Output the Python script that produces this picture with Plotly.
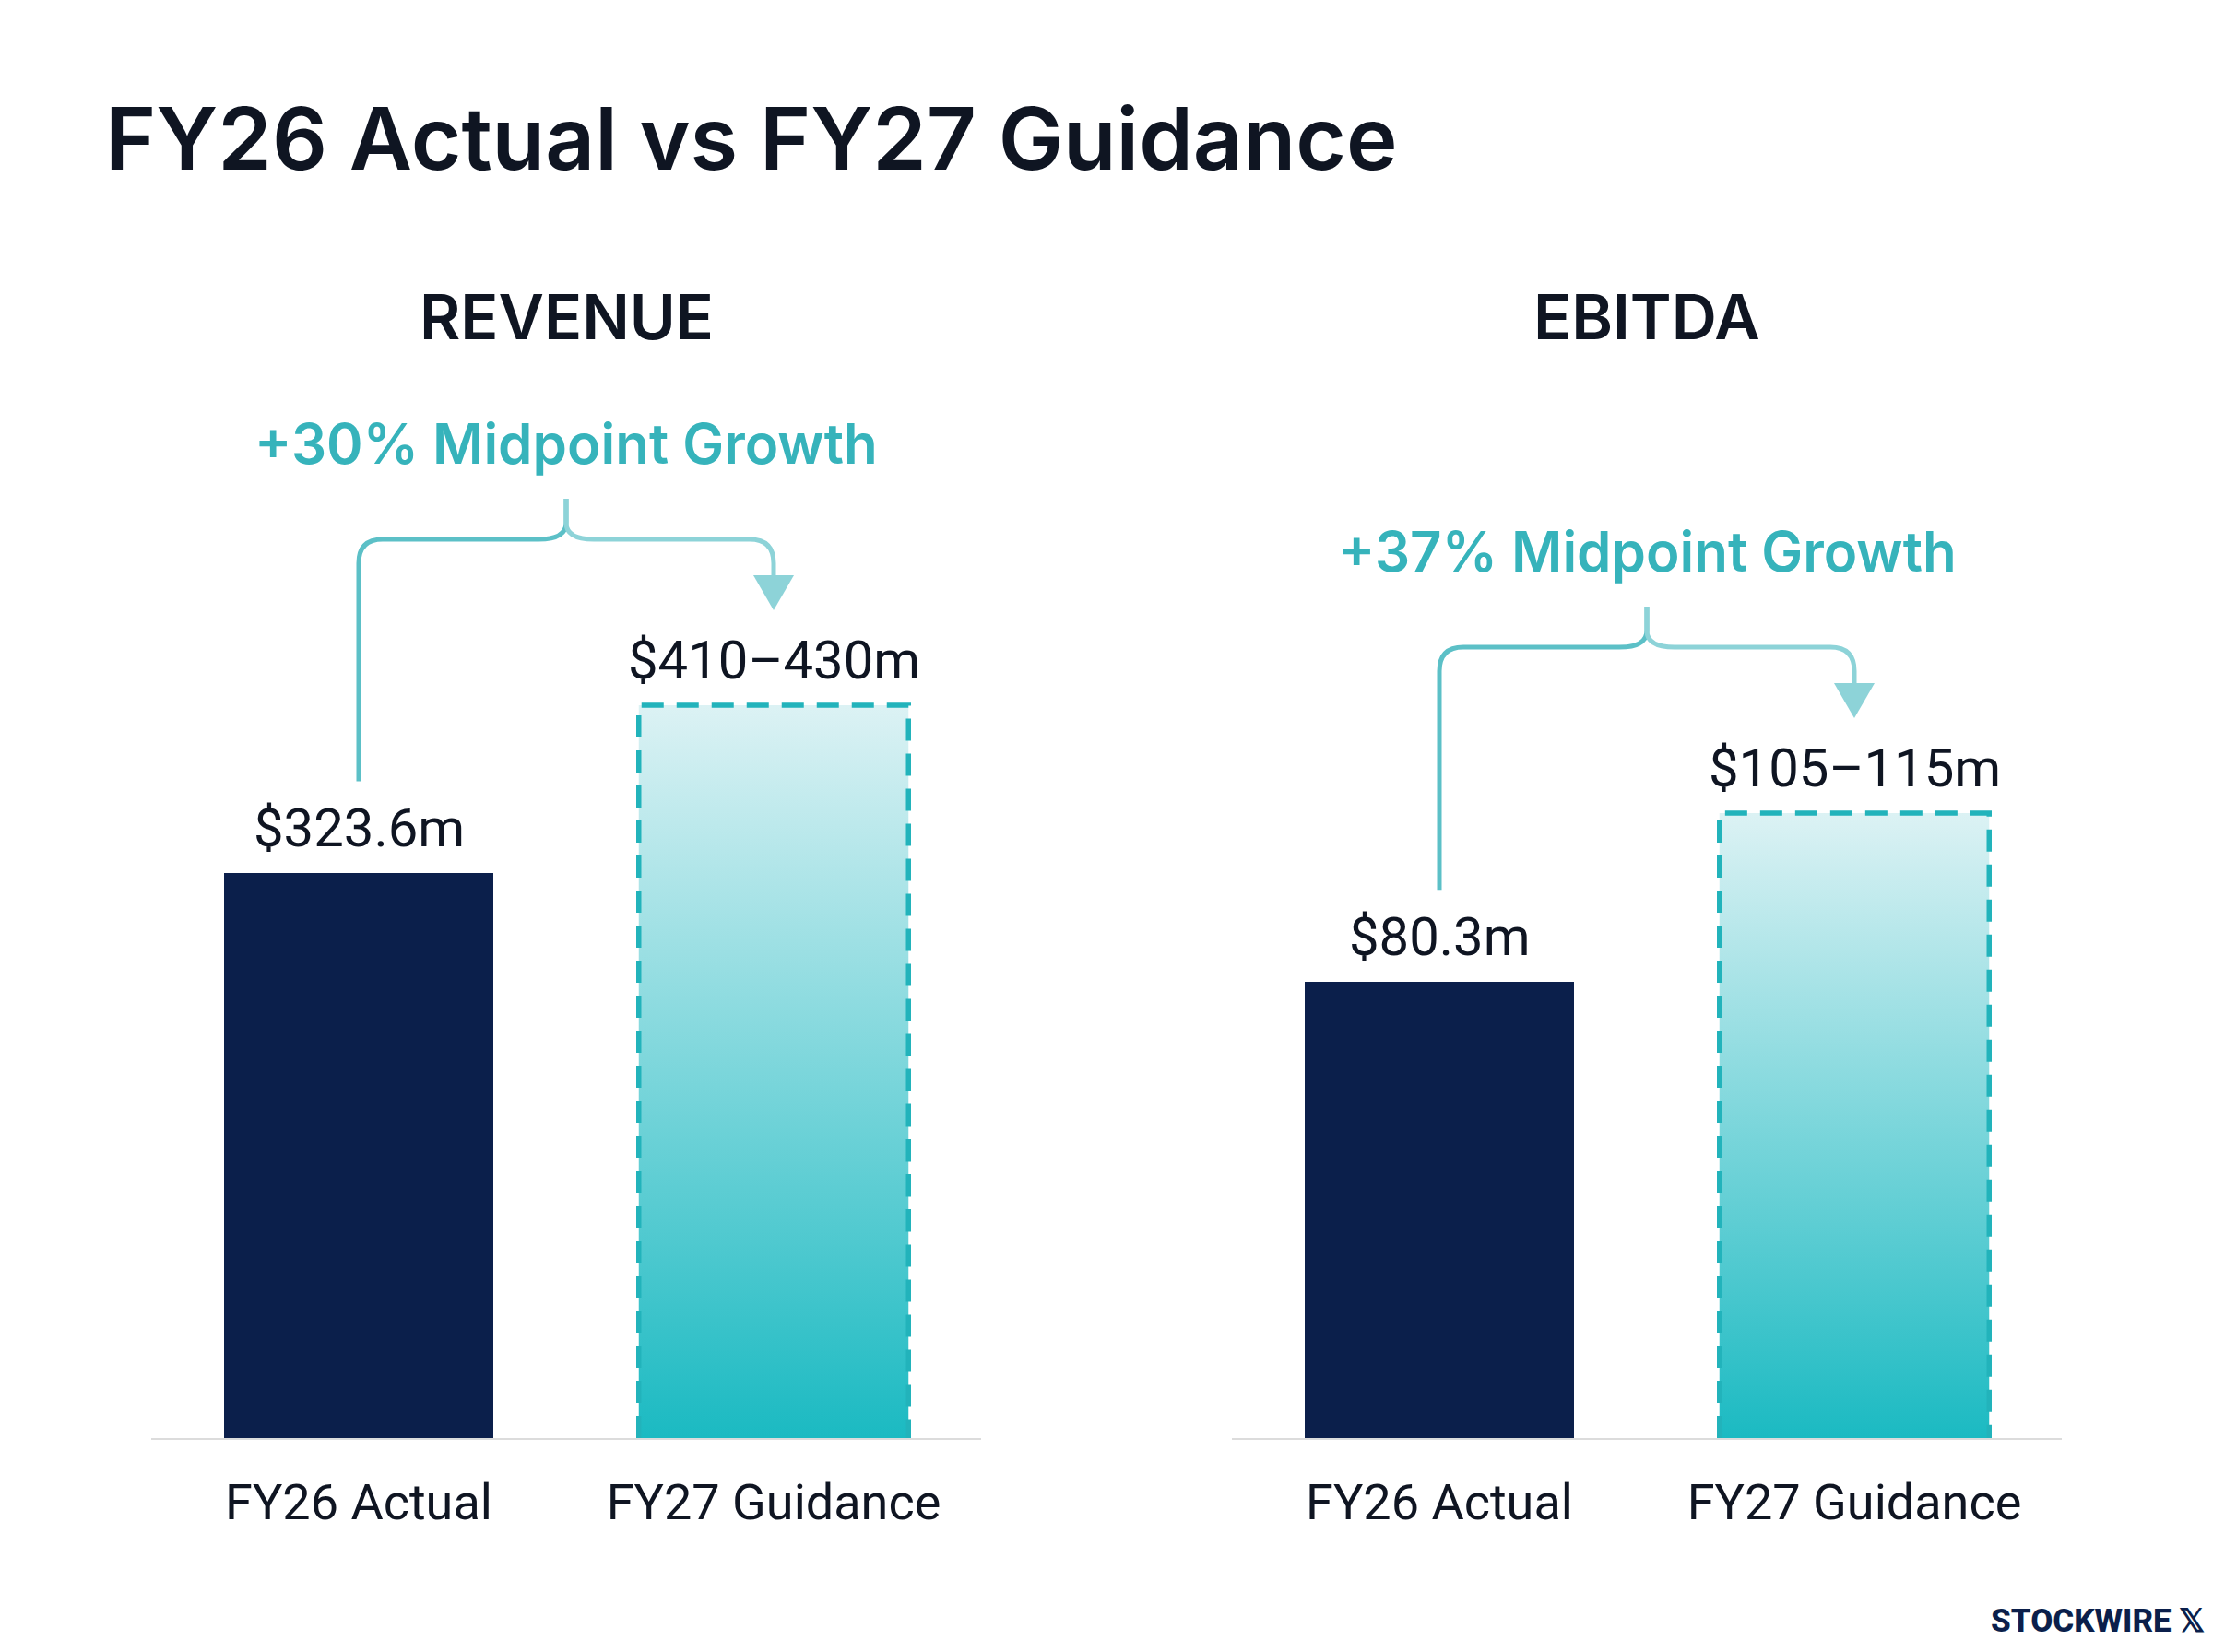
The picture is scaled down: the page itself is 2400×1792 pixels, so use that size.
import plotly.graph_objects as go

# values ($m)
panels = ["REVENUE", "EBITDA"]
categories = ["FY26 Actual", "FY27 Guidance"]
fy26_actual = [323.6, 80.3]
fy27_low = [410, 105]
fy27_high = [430, 115]

# page is 2400x1792 but the body has an 8px margin, so draw a slightly smaller figure
PAD = 8
W, H = 2400 - 2 * PAD, 1792 - 2 * PAD
NAVY = "#0b1f4b"
TEAL = "#22b3bb"
INK = "#0f1522"
BAR_W = 0.65
Y_MAX = [560, 172]


def px(x):
    """page pixel -> paper x"""
    return (x - PAD) / W


def py(y):
    """page pixel -> paper y"""
    return 1 - (y - PAD) / H


X_DOMAINS = [[px(164), px(1064)], [px(1336), px(2236)]]
Y_DOMAIN = [py(1560), py(500)]
PLOT_H = (Y_DOMAIN[1] - Y_DOMAIN[0]) * H


def bracket(i, mid):
    """Curly bracket + arrow from the actual bar to the guidance bar."""
    xa = "x" if i == 0 else "x2"
    ya = "y" if i == 0 else "y2"
    ppu = PLOT_H / Y_MAX[i]  # px per $m
    xpu = (X_DOMAINS[i][1] - X_DOMAINS[i][0]) * W / 2  # px per category step

    y0 = fy26_actual[i] + 100 / ppu
    yb = mid + 180 / ppu
    yt = yb + 44 / ppu
    ytip = mid + 103 / ppu
    ybase = ytip + 38 / ppu
    rx, ry = 26 / xpu, 26 / ppu
    bx, by = 30 / xpu, 18 / ppu
    ah = 22 / xpu

    left = (
        f"M 0,{y0} L 0,{yb - ry} Q 0,{yb} {rx},{yb} "
        f"L {0.5 - bx},{yb} Q 0.5,{yb} 0.5,{yb + by} L 0.5,{yt}"
    )
    right = (
        f"M 0.5,{yt} L 0.5,{yb + by} Q 0.5,{yb} {0.5 + bx},{yb} "
        f"L {1 - rx},{yb} Q 1,{yb} 1,{yb - ry} L 1,{ybase}"
    )
    arrow = f"M {1 - ah},{ybase} L {1 + ah},{ybase} L 1,{ytip} Z"

    shapes = [
        dict(type="path", path=left, xref=xa, yref=ya,
             line=dict(color="#5cc0c7", width=5)),
        dict(type="path", path=right, xref=xa, yref=ya,
             line=dict(color="#8dd3d8", width=5)),
        dict(type="path", path=arrow, xref=xa, yref=ya,
             fillcolor="#8dd3d8", line=dict(width=0)),
    ]
    # growth text sits ~104px above the bracket, in paper coords (outside y range)
    growth_y = Y_DOMAIN[0] + ((yb * ppu) + 104) / H
    return shapes, growth_y


fig = go.Figure()
shapes = []
annotations = []

for i, name in enumerate(panels):
    xa = "x" if i == 0 else "x2"
    ya = "y" if i == 0 else "y2"
    mid = (fy27_low[i] + fy27_high[i]) / 2

    fig.add_trace(go.Bar(
        x=[0], y=[fy26_actual[i]], width=BAR_W,
        marker=dict(color=NAVY, line=dict(width=0)),
        xaxis=xa, yaxis=ya, hoverinfo="skip", showlegend=False,
    ))

    # guidance bar: gradient fill with dashed outline
    fig.add_trace(go.Scatter(
        x=[1 - BAR_W / 2, 1 - BAR_W / 2, 1 + BAR_W / 2, 1 + BAR_W / 2],
        y=[0, mid, mid, 0],
        mode="lines", fill="toself",
        fillgradient=dict(type="vertical",
                          colorscale=[[0, "#1bbac2"], [1, "#dcf2f4"]]),
        line=dict(color=TEAL, width=5.5, dash="24px,14px"),
        xaxis=xa, yaxis=ya, hoverinfo="skip", showlegend=False,
    ))

    s, y_growth = bracket(i, mid)
    shapes += s

    growth = (mid / fy26_actual[i] - 1) * 100
    annotations += [
        dict(x=0, y=fy26_actual[i], xref=xa, yref=ya, text=f"${fy26_actual[i]}m",
             showarrow=False, yanchor="bottom", yshift=13,
             font=dict(family="Roboto", size=58, color=INK)),
        dict(x=1, y=mid, xref=xa, yref=ya,
             text=f"${fy27_low[i]}\u2013{fy27_high[i]}m",
             showarrow=False, yanchor="bottom", yshift=13,
             font=dict(family="Roboto", size=58, color=INK)),
        dict(x=0.5, y=y_growth, xref=xa, yref="paper",
             text=f"+{growth:.0f}% Midpoint Growth",
             showarrow=False, yanchor="middle",
             font=dict(family="Inter", size=60, color="#36b3bb", weight=600)),
        dict(x=0.5, y=py(343), xref=xa, yref="paper", text=name,
             showarrow=False, yanchor="middle",
             font=dict(family="Inter", size=68, color=INK, weight=600)),
    ]

annotations += [
    dict(x=px(112), y=py(150), xref="paper", yref="paper",
         text="FY26 Actual vs FY27 Guidance", showarrow=False,
         xanchor="left", yanchor="middle",
         font=dict(family="Inter", size=94, color=INK, weight=600)),
    dict(x=px(2392), y=py(1758), xref="paper", yref="paper",
         text="STOCKWIRE \U0001D54F", showarrow=False, borderpad=0,
         xanchor="right", yanchor="middle",
         font=dict(family="Roboto", size=35, color=NAVY, weight=800)),
]

axis_x = dict(
    range=[-0.5, 1.5], tickvals=[0, 1], ticktext=categories,
    tickfont=dict(family="Roboto", size=54, color=INK),
    showline=True, linecolor="#dcdcdc", linewidth=2,
    showgrid=False, zeroline=False, ticks="", ticklabelstandoff=21,
    fixedrange=True,
)
axis_y = dict(domain=Y_DOMAIN, visible=False, fixedrange=True)

fig.update_layout(
    width=W, height=H,
    margin=dict(l=0, r=0, t=0, b=0),
    paper_bgcolor="white", plot_bgcolor="white",
    xaxis=dict(axis_x, domain=X_DOMAINS[0], anchor="y"),
    yaxis=dict(axis_y, range=[0, Y_MAX[0]], anchor="x"),
    xaxis2=dict(axis_x, domain=X_DOMAINS[1], anchor="y2"),
    yaxis2=dict(axis_y, range=[0, Y_MAX[1]], anchor="x2"),
    shapes=shapes,
    annotations=annotations,
    bargap=0,
)

fig.write_html("out.html")
